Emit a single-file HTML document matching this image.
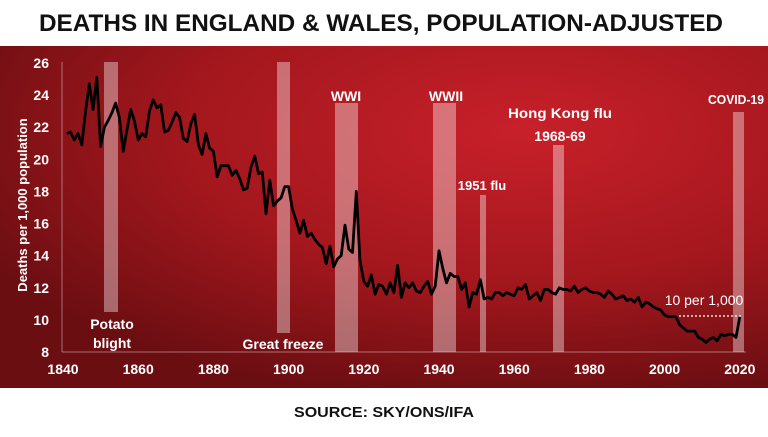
<!DOCTYPE html>
<html><head><meta charset="utf-8"><style>
html,body{margin:0;padding:0;}
body{width:768px;height:432px;overflow:hidden;background:#fff;font-family:"Liberation Sans",sans-serif;}
</style></head><body>
<svg id="s" width="768" height="432" xmlns="http://www.w3.org/2000/svg" font-family="Liberation Sans, sans-serif">
<defs>
<radialGradient id="g" cx="0.68" cy="0.25" r="0.8">
<stop offset="0" stop-color="#c8202a"/>
<stop offset="0.55" stop-color="#a3171d"/>
<stop offset="1" stop-color="#6a0e12"/>
</radialGradient>
</defs>
<rect x="0" y="0" width="768" height="46" fill="#fff"/>
<text x="381" y="31" text-anchor="middle" font-size="24" font-weight="bold" fill="#111" textLength="684" lengthAdjust="spacingAndGlyphs">DEATHS IN ENGLAND &amp; WALES, POPULATION-ADJUSTED</text>
<rect x="0" y="46" width="768" height="342" fill="url(#g)"/>
<text x="384" y="417" text-anchor="middle" font-size="15" font-weight="bold" fill="#111" textLength="180" lengthAdjust="spacingAndGlyphs">SOURCE: SKY/ONS/IFA</text>
<g fill="#fff" fill-opacity="0.38">
<rect x="104" y="62" width="14" height="250"/>
<rect x="277" y="62" width="13" height="271"/>
<rect x="335" y="103" width="23" height="249"/>
<rect x="433" y="103" width="23" height="249"/>
<rect x="480" y="195" width="6" height="157"/>
<rect x="553" y="145" width="11" height="207"/>
<rect x="733" y="112" width="11" height="240"/>
</g>
<line x1="62" y1="62" x2="62" y2="352" stroke="#fff" stroke-opacity="0.4"/>
<line x1="62" y1="352" x2="746" y2="352" stroke="#fff" stroke-opacity="0.4"/>
<g id="yt" fill="#fff" font-size="14" font-weight="bold" text-anchor="end"></g>
<g id="xt" fill="#fff" font-size="14" font-weight="bold" text-anchor="middle"></g>
<text transform="translate(27,205) rotate(-90)" text-anchor="middle" fill="#fff" font-size="13" font-weight="bold">Deaths per 1,000 population</text>
<g fill="#fff" font-weight="bold" font-size="14" text-anchor="middle">
<text x="346" y="101">WWI</text>
<text x="446" y="101">WWII</text>
<text x="482" y="190" font-size="13">1951 flu</text>
<text x="560" y="118" font-size="14" textLength="104" lengthAdjust="spacingAndGlyphs">Hong Kong flu</text>
<text x="560" y="141" font-size="14">1968-69</text>
<text x="736" y="104" font-size="13" textLength="56" lengthAdjust="spacingAndGlyphs">COVID-19</text>
<text x="112" y="329" font-size="14">Potato</text>
<text x="112" y="348" font-size="14">blight</text>
<text x="283" y="349" font-size="14">Great freeze</text>
</g>
<text x="704" y="305" text-anchor="middle" fill="#fff" font-size="14">10 per 1,000</text>
<line x1="675" y1="316" x2="742" y2="316" stroke="#fff" stroke-width="1.2" stroke-dasharray="2,2"/>
<polyline id="ln" fill="none" stroke="#000" stroke-width="2.8" stroke-linejoin="round"/>
</svg>
<script>
var d=[21.6,21.7,21.2,21.6,20.9,23.0,24.7,23.1,25.1,20.8,22.0,22.4,22.9,23.5,22.6,20.5,21.8,23.1,22.4,21.2,21.6,21.4,23.0,23.7,23.2,23.4,21.7,21.8,22.3,22.9,22.6,21.3,21.1,22.2,22.8,20.9,20.3,21.6,20.7,20.5,18.9,19.6,19.6,19.6,19.0,19.3,18.8,18.1,18.2,19.5,20.2,19.1,19.2,16.6,18.7,17.1,17.4,17.6,18.3,18.3,16.9,16.2,15.4,16.2,15.2,15.4,15.0,14.7,14.5,13.5,14.6,13.3,13.8,14.0,15.9,14.4,14.2,18.0,13.7,12.4,12.1,12.8,11.6,12.2,12.1,11.6,12.3,11.7,13.4,11.4,12.3,12.0,12.3,11.8,11.7,12.1,12.4,11.6,12.1,14.3,13.2,12.3,12.9,12.7,12.7,11.9,12.3,10.8,11.7,11.6,12.5,11.3,11.4,11.3,11.7,11.7,11.5,11.7,11.6,11.5,12.0,11.9,12.2,11.3,11.5,11.7,11.2,11.9,11.9,11.7,11.6,12.0,11.9,11.9,11.8,12.1,11.7,11.9,12.0,11.8,11.7,11.7,11.6,11.4,11.8,11.6,11.3,11.4,11.5,11.2,11.3,11.1,11.4,10.8,11.1,11.0,10.8,10.7,10.6,10.3,10.2,10.2,10.2,9.7,9.5,9.3,9.3,9.3,8.9,8.8,8.6,8.8,8.9,8.7,9.1,9.0,9.1,9.1,8.9,10.2];
function X(y){return 63+(y-1840)*3.76}function Y(v){return 352-(v-8)*16.06}
var p=d.map(function(v,i){return X(1841+i).toFixed(1)+","+Y(v).toFixed(1)}).join(" ");
document.getElementById("ln").setAttribute("points",p);
var ns="http://www.w3.org/2000/svg",yt=document.getElementById("yt"),xt=document.getElementById("xt");
for(var v=8;v<=26;v+=2){var t=document.createElementNS(ns,"text");t.setAttribute("x",49);t.setAttribute("y",Y(v)+5);t.textContent=v;yt.appendChild(t);}
for(var y=1840;y<=2020;y+=20){var t=document.createElementNS(ns,"text");t.setAttribute("x",X(y));t.setAttribute("y",374);t.textContent=y;xt.appendChild(t);}
</script>
</body></html>
